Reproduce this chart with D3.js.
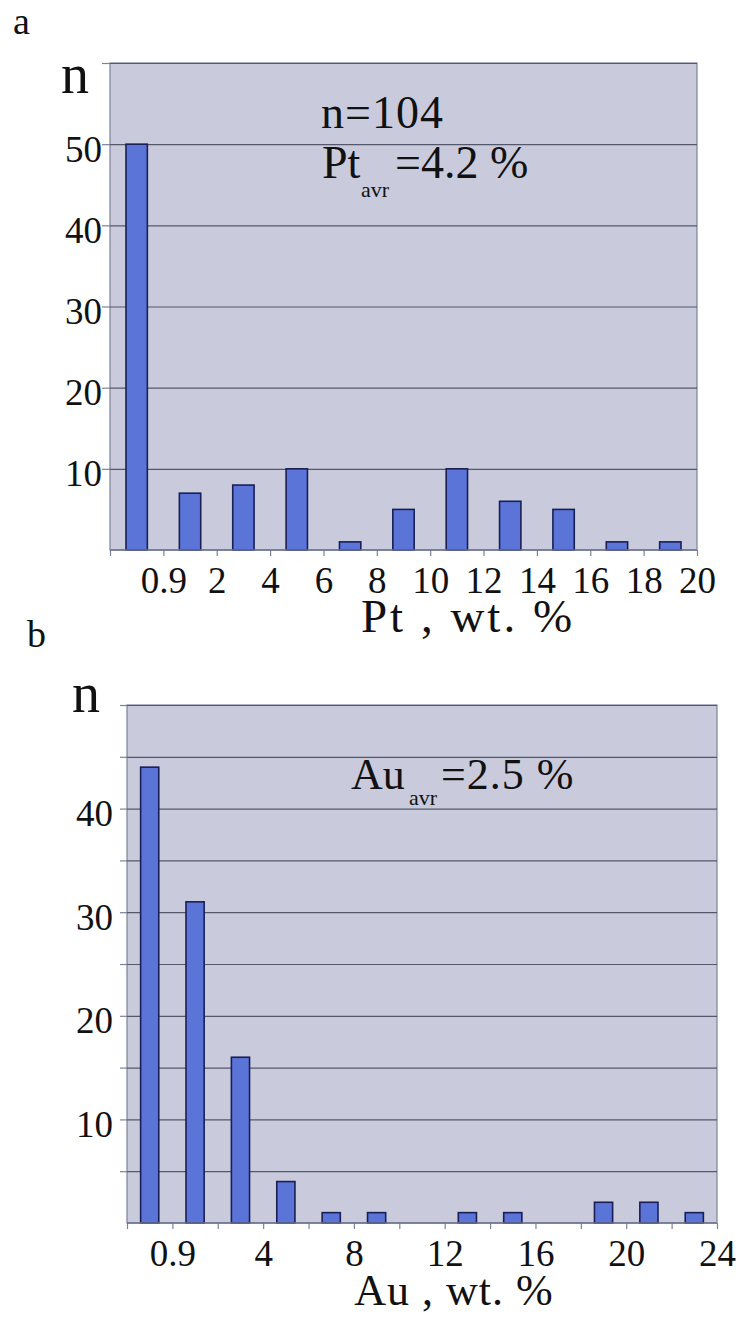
<!DOCTYPE html>
<meta charset="utf-8">
<head>
<script src="https://d3js.org/d3.v7.min.js"></script>
<style>
    body { margin: 0; background: #fff; }
    svg text { font-family: "Liberation Serif", "Tinos", "Times New Roman", "DejaVu Serif", serif; fill: #111; }
    .plotbg { fill: #c9cbdc; stroke: #7d8299; stroke-width: 1.2px; }
    .grid line { stroke: #55586a; stroke-width: 1.2px; }
    .grid path { display: none; }
    .bar { fill: #5a74d8; stroke: #1b1e55; stroke-width: 1.6px; }
    .yax path, .xax path { display: none; }
    .yax line, .xax line { stroke: #7d8299; stroke-width: 1.2px; }
</style>
</head>
<body>
<svg id="chart" width="749" height="1318" font-family="Liberation Serif, Times New Roman, serif"></svg>

<script>
    // Pt histogram (a)
    var ptBins = ["0-0.9", "0.9-2", "2-4", "4-6", "6-8", "8-10", "10-12", "12-14", "14-16", "16-18", "18-20"];
    var ptCounts = [50, 7, 8, 10, 1, 5, 10, 6, 5, 1, 1];
    var ptTickLabels = ["", "0.9", "2", "4", "6", "8", "10", "12", "14", "16", "18", "20"];
    var ptYTicks = [10, 20, 30, 40, 50];
    var ptGrid = [10, 20, 30, 40, 50, 60];

    // Au histogram (b)
    var auBins = ["0-0.9", "0.9-2", "2-4", "4-6", "6-8", "8-10", "10-12", "12-14", "14-16", "16-18", "18-20", "20-22", "22-24"];
    var auCounts = [44, 31, 16, 4, 1, 1, 0, 1, 1, 0, 2, 2, 1];
    var auTickLabels = ["", "0.9", "", "4", "", "8", "", "12", "", "16", "", "20", "", "24"];
    var auYTicks = [10, 20, 30, 40];
    var auGrid = [5, 10, 15, 20, 25, 30, 35, 40, 45, 50];

    var svg = d3.select("#chart");

    function drawPanel(opt) {
      var w = opt.width, h = opt.height;
      var g = svg.append("g").attr("transform", "translate(" + opt.left + "," + opt.top + ")");

      var x = d3.scaleBand().domain(opt.bins).range([0, w]).paddingInner(0.6).paddingOuter(0.3);
      // bin edges for the ticks
      var xe = d3.scaleLinear().domain([0, opt.bins.length]).range([0, w]);
      var y = d3.scaleLinear().domain([0, opt.yMax]).range([h, 0]);

      g.append("rect").attr("class", "plotbg")
        .attr("width", w).attr("height", h);

      // gridlines
      g.append("g").attr("class", "grid")
        .call(d3.axisLeft(y).tickValues(opt.grid).tickSize(-w).tickFormat(""));

      // y ticks outside + labels
      var yax = g.append("g").attr("class", "yax")
        .call(d3.axisLeft(y).tickValues(opt.grid).tickSize(opt.yTickLen)
          .tickFormat(function(d) { return opt.yLabels.indexOf(d) >= 0 ? d : ""; }));
      yax.selectAll("text")
        .attr("x", -opt.yLabelGap)
        .attr("dy", null)
        .attr("y", 17)
        .style("font-size", "37px");

      // bars
      g.selectAll(".bar")
        .data(opt.counts)
        .enter()
        .append("rect")
        .attr("class", "bar")
        .attr("x", function(d, i) { return x(opt.bins[i]); })
        .attr("width", x.bandwidth())
        .attr("y", function(d) { return y(d); })
        .attr("height", function(d) { return h - y(d); })
        .style("display", function(d) { return d > 0 ? null : "none"; });

      // x axis: tick at every bin edge, label where given
      var xax = g.append("g").attr("class", "xax")
        .attr("transform", "translate(0," + h + ")")
        .call(d3.axisBottom(xe).tickValues(d3.range(opt.bins.length + 1)).tickSize(6)
          .tickFormat(function(i) { return opt.tickLabels[i]; }));
      xax.selectAll("text")
        .attr("dy", null)
        .attr("y", 43)
        .style("font-size", "37px");

      // the axis groups carry their own font attrs; drop them so the css serif applies
      g.selectAll(".yax, .xax").attr("font-family", null).attr("font-size", null);

      g.append("line")
        .attr("x1", 0).attr("x2", w).attr("y1", h).attr("y2", h)
        .attr("stroke", "#6d7290").attr("stroke-width", 1.4);

      return g;
    }

    drawPanel({
      left: 110, top: 63, width: 587, height: 487,
      bins: ptBins, counts: ptCounts, tickLabels: ptTickLabels,
      yMax: 60, grid: ptGrid, yLabels: ptYTicks, yTickLen: 8, yLabelGap: 8
    });

    drawPanel({
      left: 127, top: 705, width: 590, height: 518,
      bins: auBins, counts: auCounts, tickLabels: auTickLabels,
      yMax: 50, grid: auGrid, yLabels: auYTicks, yTickLen: 7, yLabelGap: 14
    });

    // panel letters and n labels
    svg.append("text").attr("x", 13).attr("y", 34).style("font-size", "38px").text("a");
    svg.append("text").attr("x", 27).attr("y", 647).style("font-size", "38px").text("b");
    svg.append("text").attr("x", 61).attr("y", 93).style("font-size", "56px").text("n");
    svg.append("text").attr("x", 72).attr("y", 712).style("font-size", "56px").text("n");

    // annotations
    svg.append("text").attr("x", 321).attr("y", 128).style("font-size", "46px")
      .style("letter-spacing", "1px").text("n=104");
    var pt = svg.append("text").attr("y", 178).style("font-size", "46px");
    pt.append("tspan").attr("x", 322).text("Pt");
    pt.append("tspan").attr("x", 361).attr("dy", 19).style("font-size", "22px").text("avr");
    pt.append("tspan").attr("x", 395).attr("dy", -19).text("=4.2 %");

    var au = svg.append("text").attr("y", 789).style("font-size", "44px");
    au.append("tspan").attr("x", 351).text("Au");
    au.append("tspan").attr("x", 409).attr("dy", 16).style("font-size", "22px").text("avr");
    au.append("tspan").attr("x", 441).attr("dy", -16).style("letter-spacing", "1px").text("=2.5 %");

    // axis titles
    svg.append("text").attr("x", 468).attr("y", 632).attr("text-anchor", "middle")
      .style("font-size", "47px").style("letter-spacing", "3px").text("Pt , wt. %");
    svg.append("text").attr("x", 454).attr("y", 1305).attr("text-anchor", "middle")
      .style("font-size", "44px").style("letter-spacing", "1px").text("Au , wt. %");
</script>
</body>
